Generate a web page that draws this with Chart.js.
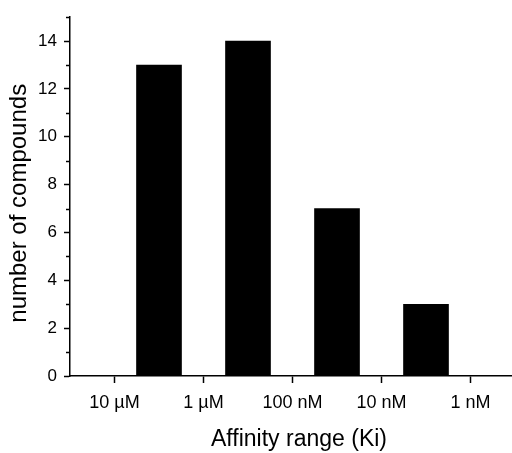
<!DOCTYPE html>
<html>
<head>
<meta charset="utf-8">
<script src="https://cdn.jsdelivr.net/npm/chart.js@4.4.1/dist/chart.umd.min.js"></script>
<style>
    body { margin: 0; background: #fff; overflow: hidden; }
    #clip { width: 512px; height: 453px; overflow: hidden; }
    /* the plot runs a little past the right edge of the picture */
    #wrap { width: 528px; height: 453px; position: relative; }
</style>
</head>
<body>
<div id="clip"><div id="wrap"><canvas id="affinityChart"></canvas></div></div>
<script>
// tick labels on the x axis, placed at positions 1..5
const xTickLabels = ['10 µM', '1 µM', '100 nM', '10 nM', '1 nM'];
const xTickPos = [1, 2, 3, 4, 5];

// bars sit between the ticks
const binCenters = [1.5, 2.5, 3.5, 4.5];
const compoundCounts = [13, 14, 7, 3];

const yMajorTicks = [0, 2, 4, 6, 8, 10, 12, 14];
const yMinorTicks = [1, 3, 5, 7, 9, 11, 13, 15];

const FONT = "'Liberation Sans', Arial, sans-serif";

// small ticks between the labelled ones on the y axis
const minorTicksPlugin = {
    id: 'minorTicks',
    afterDraw(chart) {
        const y = chart.scales.y;
        const ctx = chart.ctx;
        const left = chart.chartArea.left;
        ctx.save();
        ctx.strokeStyle = '#000';
        ctx.lineWidth = 1.5;
        yMinorTicks.forEach(v => {
            const py = Math.round(y.getPixelForValue(v)) + 0.5;
            ctx.beginPath();
            ctx.moveTo(left - 4, py);
            ctx.lineTo(left, py);
            ctx.stroke();
        });
        ctx.restore();
    }
};

const data = {
    datasets: [{
        label: 'compounds',
        data: binCenters.map((x, i) => ({ x: x, y: compoundCounts[i] })),
        backgroundColor: '#000',
        borderWidth: 0,
        barThickness: 45
    }]
};

new Chart(document.getElementById('affinityChart'), {
    type: 'bar',
    data: data,
    plugins: [minorTicksPlugin],
    options: {
        responsive: true,
        maintainAspectRatio: false,
        animation: false,
        layout: { padding: { top: 14, right: 0, left: 0, bottom: 0 } },
        plugins: {
            legend: { display: false },
            tooltip: { enabled: false }
        },
        scales: {
            x: {
                type: 'linear',
                offset: false,
                min: 0.5,
                max: 5.646,
                afterBuildTicks: (scale) => {
                    scale.ticks = xTickPos.map(v => ({ value: v }));
                },
                afterFit: (scale) => { scale.height = 77; },
                ticks: {
                    autoSkip: false,
                    maxRotation: 0,
                    padding: 9,
                    color: '#000',
                    font: { family: FONT, size: 18 },
                    callback: (v) => xTickLabels[xTickPos.indexOf(v)]
                },
                grid: {
                    offset: false,
                    drawOnChartArea: false,
                    drawTicks: true,
                    tickLength: 7,
                    tickColor: '#000',
                    tickWidth: 1.5
                },
                border: { display: true, color: '#000', width: 1.5 },
                title: {
                    display: true,
                    text: 'Affinity range (Ki)',
                    color: '#000',
                    font: { family: FONT, size: 23 },
                    padding: 0
                }
            },
            y: {
                min: 0,
                max: 15,
                afterBuildTicks: (scale) => {
                    scale.ticks = yMajorTicks.map(v => ({ value: v }));
                },
                afterFit: (scale) => { scale.width = 70; },
                ticks: {
                    padding: 7,
                    color: '#000',
                    font: { family: FONT, size: 17 }
                },
                grid: {
                    drawOnChartArea: false,
                    drawTicks: true,
                    tickLength: 6,
                    tickColor: '#000',
                    tickWidth: 1.5
                },
                border: { display: true, color: '#000', width: 1.5 },
                title: {
                    display: true,
                    // trailing spaces push the centred text a bit lower, as in the original
                    text: 'number of compounds\u00a0\u00a0',
                    color: '#000',
                    font: { family: FONT, size: 24 },
                    padding: { top: 5, bottom: 0 }
                }
            }
        }
    }
});
</script>
</body>
</html>
